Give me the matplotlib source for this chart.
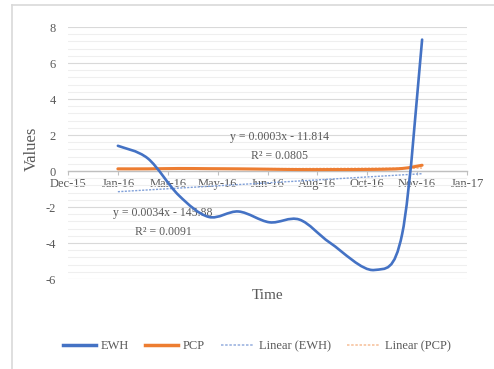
import datetime as dt

import matplotlib
matplotlib.use("Agg")
import matplotlib.pyplot as plt
import matplotlib.dates as mdates
import numpy as np
from matplotlib.lines import Line2D
from matplotlib.patches import PathPatch
from matplotlib.path import Path

plt.rcParams["font.family"] = ["Liberation Serif", "DejaVu Serif"]
plt.rcParams["axes.unicode_minus"] = False

# observation dates, 2016
dates = [dt.date(2016, 1, 27), dt.date(2016, 2, 26), dt.date(2016, 3, 28),
         dt.date(2016, 4, 27), dt.date(2016, 5, 27), dt.date(2016, 6, 27),
         dt.date(2016, 7, 27), dt.date(2016, 8, 27), dt.date(2016, 10, 10),
         dt.date(2016, 11, 7), dt.date(2016, 11, 27)]
ewh = [1.4, 0.7, -1.35, -2.55, -2.25, -2.85, -2.7, -4.0, -5.5, -3.5, 7.3]
pcp = [0.12, 0.12, 0.14, 0.13, 0.12, 0.10, 0.08, 0.08, 0.09, 0.14, 0.32]

# fitted trend for EWH, value at the first and last date
ewh_trend = [-1.15, -0.15]
ewh_eq = ["y = 0.0034x - 145.88", "R² = 0.0091"]
pcp_eq = ["y = 0.0003x - 11.814", "R² = 0.0805"]

x_start = dt.date(2015, 12, 8)
x_step = 50
y_ticks = [-6, -4, -2, 0, 2, 4, 6, 8]

BLUE = "#4472C4"
ORANGE = "#ED7D31"
TEXT = "#595959"


def smooth_path(xs, ys):
    # spreadsheet-style smoothed line: cubic Bezier through every point
    pts = np.column_stack([xs, ys])
    n = len(pts)
    verts = [pts[0]]
    codes = [Path.MOVETO]
    for i in range(n - 1):
        p0 = pts[max(i - 1, 0)]
        p1 = pts[i]
        p2 = pts[i + 1]
        p3 = pts[min(i + 2, n - 1)]
        verts += [p1 + (p2 - p0) / 6, p2 - (p3 - p1) / 6, p2]
        codes += [Path.CURVE4] * 3
    return Path(verts, codes)


xd = mdates.date2num(dates)

fig = plt.figure(figsize=(4.94, 3.69), dpi=100)
ax = fig.add_axes([68 / 494, 1 - 279 / 369, 399 / 494, 252 / 369])

# frame around the whole chart
fig.add_artist(Line2D([12 / 494, 12 / 494], [0, 1 - 5 / 369], transform=fig.transFigure,
                      color="#d9d9d9", lw=1.2))
fig.add_artist(Line2D([12 / 494, 1], [1 - 5 / 369, 1 - 5 / 369], transform=fig.transFigure,
                      color="#d9d9d9", lw=1.2))

x_ticks = [x_start + dt.timedelta(days=x_step * k) for k in range(9)]
ax.set_xlim(mdates.date2num(x_ticks[0]), mdates.date2num(x_ticks[-1]))
ax.set_ylim(-6, 8)
ax.set_xticks(mdates.date2num(x_ticks))
ax.xaxis.set_major_formatter(mdates.DateFormatter("%b-%y"))
ax.set_yticks(y_ticks)
ax.set_yticks(np.arange(-6, 8.01, 0.4), minor=True)
ax.set_yticklabels([str(v) for v in y_ticks])

ax.grid(axis="y", which="major", color="#d9d9d9", lw=0.8)
ax.grid(axis="y", which="minor", color="#efefef", lw=0.8)
ax.set_axisbelow(True)

for side in ["left", "right", "top"]:
    ax.spines[side].set_visible(False)
ax.spines["bottom"].set_position(("data", 0))
ax.spines["bottom"].set_color("#bfbfbf")
ax.spines["bottom"].set_linewidth(1.0)
ax.tick_params(axis="x", which="major", length=3, color="#bfbfbf", pad=2,
               labelsize=9, labelcolor=TEXT)
ax.tick_params(axis="y", which="both", length=0, pad=9, labelsize=9, labelcolor=TEXT)

# trend lines
ax.plot([xd[0], xd[-1]], ewh_trend, color="#7f9fd8", lw=1.0, ls=(0, (1.5, 1)), zorder=2)
k, b = np.polyfit(xd, pcp, 1)
ax.plot(xd, k * xd + b, color="#f4b183", lw=1.0, ls=(0, (1.5, 1)), zorder=2)

ax.add_patch(PathPatch(smooth_path(xd, pcp), facecolor="none", edgecolor=ORANGE,
                       lw=2.2, capstyle="round", zorder=3))
ax.add_patch(PathPatch(smooth_path(xd, ewh), facecolor="none", edgecolor=BLUE,
                       lw=1.9, capstyle="round", zorder=4))

# trend equations
ax.text(0.238, 0.262, ewh_eq[0], transform=ax.transAxes, ha="center", va="center",
        fontsize=8.5, color=TEXT)
ax.text(0.238, 0.187, ewh_eq[1], transform=ax.transAxes, ha="center", va="center",
        fontsize=8.5, color=TEXT)
ax.text(0.531, 0.563, pcp_eq[0], transform=ax.transAxes, ha="center", va="center",
        fontsize=8.5, color=TEXT)
ax.text(0.531, 0.488, pcp_eq[1], transform=ax.transAxes, ha="center", va="center",
        fontsize=8.5, color=TEXT)

ax.set_ylabel("Values", fontsize=12, color=TEXT)
ax.yaxis.set_label_coords(-0.07, 0.516)
ax.set_xlabel("Time", fontsize=11, color=TEXT)
ax.xaxis.set_label_coords(0.501, -0.04)

handles = [
    Line2D([], [], color=BLUE, lw=2.5),
    Line2D([], [], color=ORANGE, lw=2.5),
    Line2D([], [], color="#9db4e0", lw=1.2, ls=(0, (1.5, 1))),
    Line2D([], [], color="#f7c4a0", lw=1.2, ls=(0, (1.5, 1))),
]
labels = ["EWH", "PCP", "Linear (EWH)", "Linear (PCP)"]
leg = fig.legend(handles, labels, loc="center", bbox_to_anchor=(0.52, 1 - 346 / 369),
                 ncol=4, frameon=False, fontsize=9, handlelength=2.6,
                 handletextpad=0.4, columnspacing=1.3)
for t in leg.get_texts():
    t.set_color(TEXT)

fig.savefig("out.png", dpi=100)
